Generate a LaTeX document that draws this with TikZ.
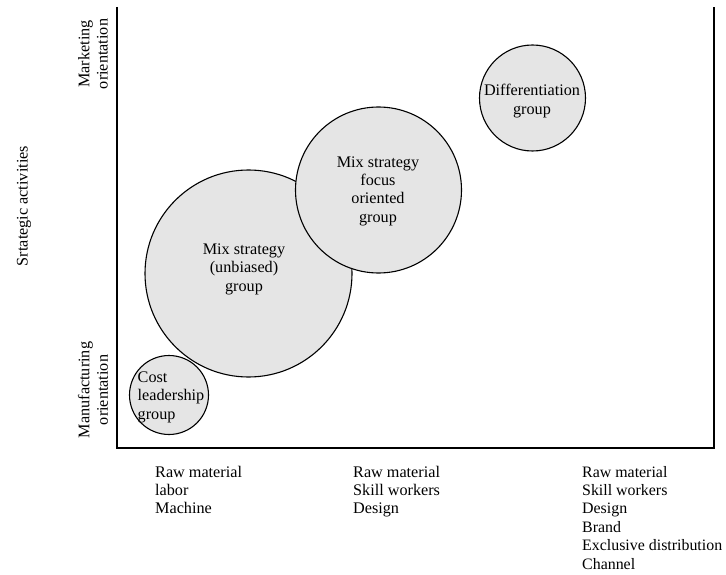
\documentclass[tikz,border=0pt]{standalone}
\usepackage{fontspec}
\setmainfont{Liberation Serif}
\begin{document}
\begin{tikzpicture}[x=1pt,y=-1pt,
  txt/.style={font=\fontsize{16.2}{18.4}\selectfont, inner sep=0pt, align=center},
  bubble/.style={circle, draw=black, line width=1.1pt, fill=black!10, inner sep=0pt},
  frame/.style={line width=1.6pt, line join=miter}]
\useasboundingbox (0,0) rectangle (726,575);
% frame
\draw[frame] (117,7) -- (117,448) -- (714,448) -- (714,7);
% bubbles
\node[bubble, minimum size=207pt] (mix) at (248.5,273.5) {};
\node[bubble, minimum size=166pt] (focus) at (378.5,190) {};
\node[bubble, minimum size=79pt] (cost) at (169,395) {};
\node[bubble, minimum size=106pt] (diff) at (532.5,98) {};
% bubble texts
\node[txt] (mixt) at (244,269) {Mix strategy\\(unbiased)\\group};
\node[txt] (focust) at (378,191) {Mix strategy\\focus\\oriented\\group};
\node[txt] (difft) at (532,101) {Differentiation\\group};
\node[txt, align=left, anchor=west] (costt) at (137.5,397) {Cost\\leadership\\group};
% axis labels
\node[txt, rotate=90] (mkt) at (93,54) {Marketing\\orientation};
\node[txt, rotate=90] (mfg) at (93,390) {Manufacturing\\orientation};
\node[txt, rotate=90] (sa) at (24,206) {Srtategic activities};
% bottom labels (anchor = baseline of the last line)
\node[txt, align=left, anchor=base west] (c1) at (155,513.8) {Raw material\\labor\\Machine};
\node[txt, align=left, anchor=base west] (c2) at (353,513.8) {Raw material\\Skill workers\\Design};
\node[txt, align=left, anchor=base west, font=\fontsize{15.9}{18.4}\selectfont] (c3) at (582,569) {Raw material\\Skill workers\\Design\\Brand\\Exclusive distribution\\Channel};
\end{tikzpicture}
\end{document}
